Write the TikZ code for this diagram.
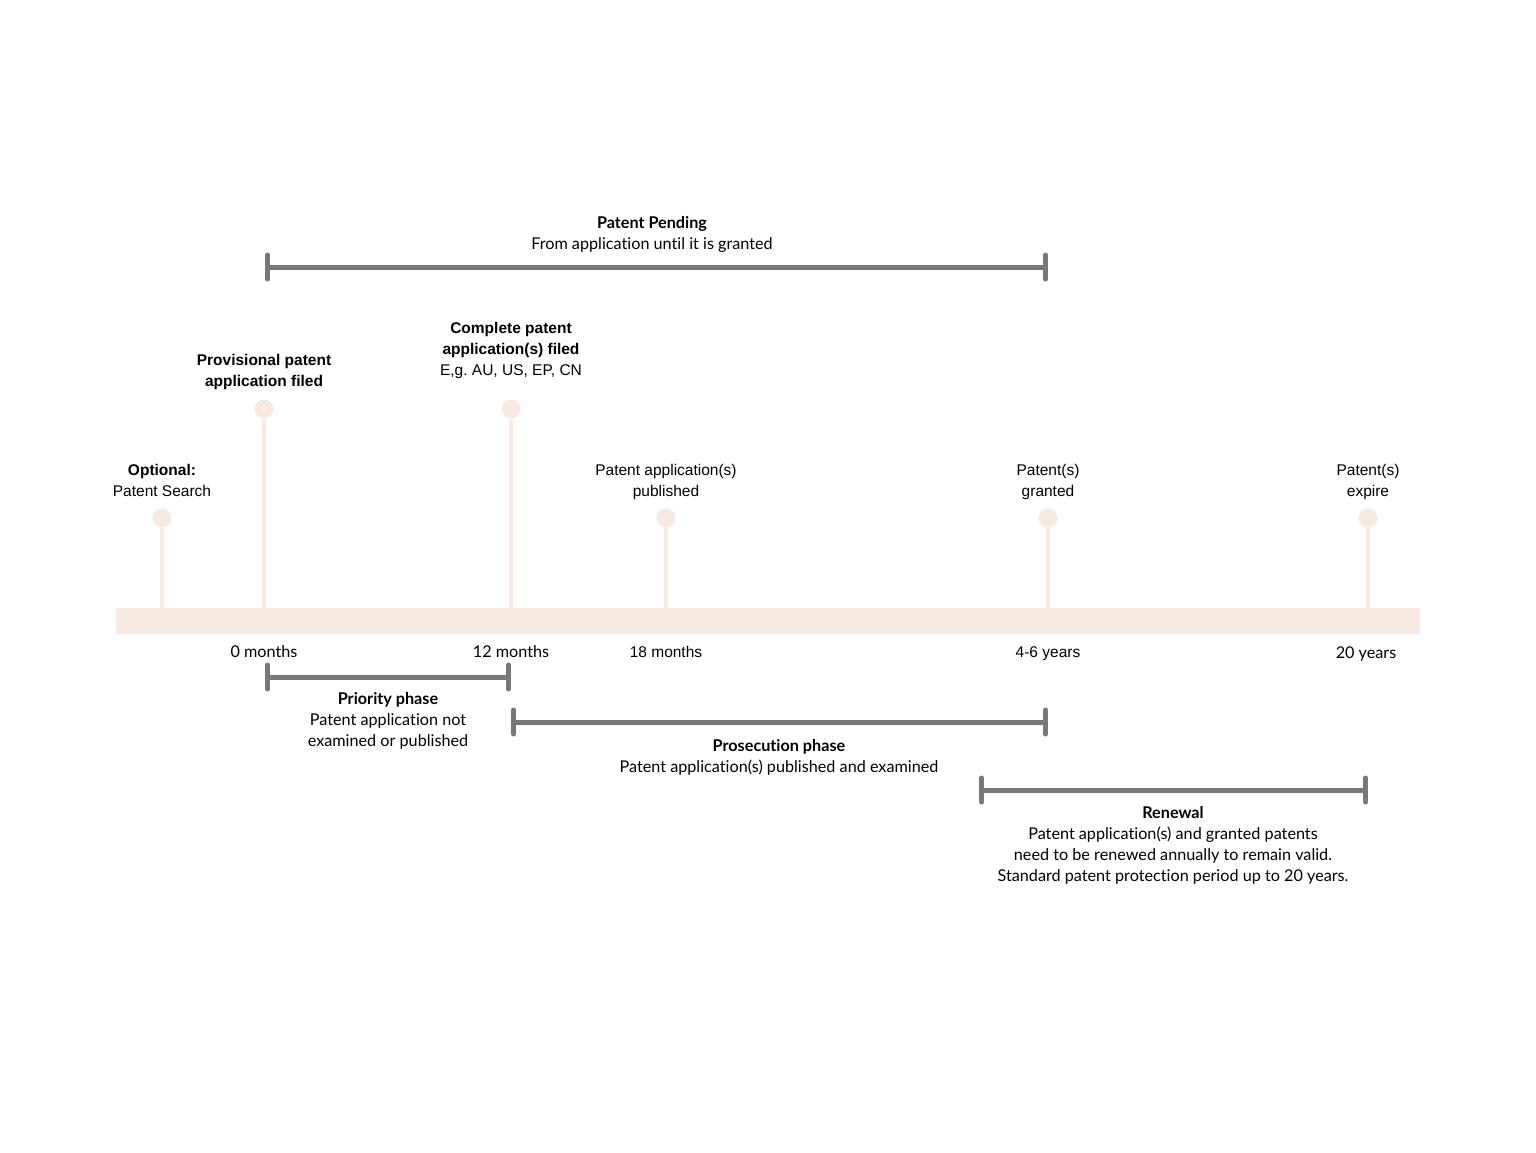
\documentclass[tikz,border=0pt]{standalone}
\usepackage{fontspec}
\setmainfont{Liberation Sans}
\newfontfamily\narrowfont[Ligatures=NoCommon]{Lato}
\usetikzlibrary{arrows.meta}

\definecolor{barpeach}{HTML}{F8EAE1}
\definecolor{spangray}{HTML}{777777}

\begin{document}
\begin{tikzpicture}[x=1pt,y=-1pt,
  dot/.style={circle, fill=barpeach, minimum size=19pt, inner sep=0pt},
  stem/.style={draw=barpeach, line width=3.5pt},
  span/.style={draw=spangray, line width=5pt,
    {Bar[width=24pt,line cap=round]}-{Bar[width=24pt,line cap=round]}},
  lbl/.style={align=center, inner sep=0pt, font=\fontsize{15.5}{21}\selectfont},
  nlbl/.style={align=center, inner sep=0pt, font=\narrowfont\fontsize{16.2}{21}\selectfont}]

%%% 枠
\useasboundingbox (0,0) rectangle (1536,1152);
\fill[white] (0,0) rectangle (1536,1152);

%% 時間軸
\fill[barpeach] (116,608) rectangle (1420,634);

%% 点と線
\node[dot] (search) at (162,518) {};
\node[dot] (prov) at (264,409) {};
\node[dot] (comp) at (511,409) {};
\node[dot] (publ) at (666,518) {};
\node[dot] (grant) at (1048,518) {};
\node[dot] (expire) at (1368,518) {};

\coordinate (b-search) at (162,609);
\coordinate (b-prov) at (264,609);
\coordinate (b-comp) at (511,609);
\coordinate (b-publ) at (666,609);
\coordinate (b-grant) at (1048,609);
\coordinate (b-expire) at (1368,609);

\draw[stem] (search) -- (b-search);
\draw[stem] (prov) -- (b-prov);
\draw[stem] (comp) -- (b-comp);
\draw[stem] (publ) -- (b-publ);
\draw[stem] (grant) -- (b-grant);
\draw[stem] (expire) -- (b-expire);

%% 上のラベル
\node[lbl] (search-t) at (162,480) {\textbf{Optional:}\\Patent Search};
\node[lbl] (prov-t) at (264,372) {\textbf{Provisional patent}\\\textbf{application filed}};
\node[lbl] (comp-t) at (511,350) {\textbf{Complete patent}\\\textbf{application(s) filed}\\E,g.\ AU, US, EP, CN};
\node[lbl] (publ-t) at (666,482) {Patent application(s)\\published};
\node[lbl] (grant-t) at (1048,482) {Patent(s)\\granted};
\node[lbl] (expire-t) at (1368,482) {Patent(s)\\expire};

%% 目盛り
\node[nlbl] (m0) at (264,652) {0 months};
\node[nlbl] (m12) at (511,652) {12 months};
\node[lbl] (m18) at (666,652) {18 months};
\node[lbl] (y46) at (1048,654) {4-6 years};
\node[nlbl] (y20) at (1366,654) {20 years};

%% 期間
% Patent Pending
\coordinate (pend-l) at (265,267);
\coordinate (pend-r) at (1048,267);
\draw[span] (pend-l) -- (pend-r);
\node[nlbl] (pend-t) at (652,234) {\textbf{Patent Pending}\\From application until it is granted};

% Priority
\coordinate (prio-l) at (265,677);
\coordinate (prio-r) at (511,677);
\draw[span] (prio-l) -- (prio-r);
\node[nlbl] (prio-t) at (388,721) {\textbf{Priority phase}\\Patent application not\\examined or published};

% Prosecution
\coordinate (pros-l) at (511,722);
\coordinate (pros-r) at (1048,722);
\draw[span] (pros-l) -- (pros-r);
\node[nlbl] (pros-t) at (779,757) {\textbf{Prosecution phase}\\Patent application(s) published and examined};

% Renewal
\coordinate (renew-l) at (979,790);
\coordinate (renew-r) at (1368,790);
\draw[span] (renew-l) -- (renew-r);
\node[nlbl] (renew-t) at (1173,845) {\textbf{Renewal}\\Patent application(s) and granted patents\\need to be renewed annually to remain valid.\\Standard patent protection period up to 20 years.};

\end{tikzpicture}
\end{document}
